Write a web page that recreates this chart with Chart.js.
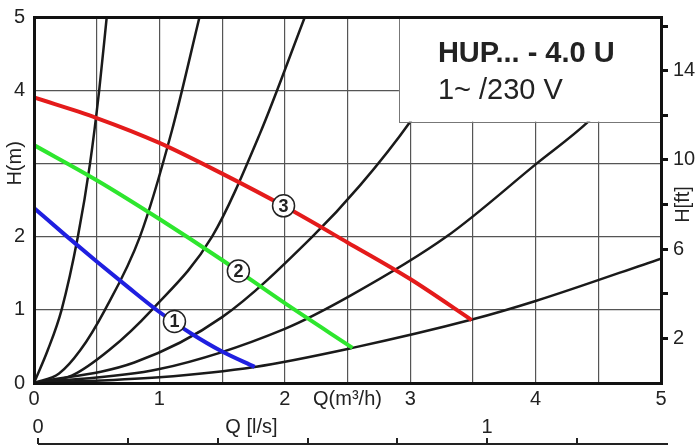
<!DOCTYPE html>
<html>
<head>
<meta charset="utf-8">
<script src="https://cdn.jsdelivr.net/npm/chart.js@4.4.1/dist/chart.umd.min.js"></script>
<style>
  html, body { margin: 0; padding: 0; background: #fff; }
</style>
</head>
<body>
<canvas id="chart" width="700" height="448"></canvas>
<script>
// pump curves, Q in m3/h, H in m
const speed1Q = [0, 0.25, 0.5, 0.75, 1.0, 1.25, 1.5, 1.76];
const speed1H = [2.39, 2.02, 1.66, 1.31, 0.97, 0.68, 0.43, 0.22];
const speed2Q = [0, 0.5, 1.0, 1.5, 2.0, 2.54];
const speed2H = [3.25, 2.77, 2.24, 1.68, 1.09, 0.48];
const speed3Q = [0, 0.5, 1.0, 1.5, 2.0, 2.5, 3.0, 3.49];
const speed3H = [3.9, 3.62, 3.28, 2.86, 2.41, 1.92, 1.42, 0.86];

// numbered markers on the pump curves
const markerQ = [1.12, 1.63, 1.99];
const markerH = [0.84, 1.53, 2.42];
const markerLabels = ['1', '2', '3'];

// system curves (black)
const sysAQ = [0, 0.11, 0.22, 0.35, 0.447, 0.52, 0.58];
const sysAH = [0, 0.45, 1, 2, 3, 4, 5];
const sysBQ = [0, 0.2, 0.37, 0.566, 0.845, 1.1, 1.32];
const sysBH = [0, 0.13, 0.45, 1, 2, 3.45, 5];
const sysCQ = [0, 0.3, 0.6, 0.94, 1.42, 1.8, 2.16];
const sysCH = [0, 0.1, 0.45, 1, 2, 3.4, 5];
const sysDQ = [0, 0.8, 1.5, 2.22, 2.6, 3.0, 3.54];
const sysDH = [0, 0.28, 0.9, 2, 2.7, 3.57, 5];
const sysEQ = [0, 1, 2, 2.52, 3.29, 4.01, 4.42, 5];
const sysEH = [0, 0.19, 0.74, 1.19, 2, 3, 3.57, 4.62];
const sysFQ = [0, 1, 1.76, 2.54, 3.5, 4.0, 5];
const sysFH = [0, 0.08, 0.22, 0.48, 0.87, 1.12, 1.7];

// axes
const hTicks = [0, 1, 2, 3, 4, 5];
const hLabels = ['0', '1', '2', '', '4', '5'];   // "3" is where H(m) sits
const ftPerM = 3.2808;
const ftTicks = [2, 4, 6, 8, 10, 12, 14, 16];
const ftLabels = ['2', '', '6', '', '10', '', '14', ''];
const lsLabelAt = [0, 0.475, 1];
const lsLabels = ['0', 'Q [l/s]', '1'];
const lsMarks = [0, 0.2, 0.4, 0.6, 0.8, 1.0, 1.2];
const lsMin = -0.009, lsMax = 1.387;

const titleText = 'HUP... - 4.0 U';
const subText = '1~ /230 V';
const boxQ = 2.91, boxH = 3.57;   // lower-left corner of the label box

const FONT = '"Liberation Sans", Arial, sans-serif';
const INK = '#222';

function curve(qs, hs, color, width, order) {
  return {
    type: 'line',
    data: qs.map((q, i) => ({ x: q, y: hs[i] })),
    borderColor: color,
    borderWidth: width,
    pointRadius: 0,
    cubicInterpolationMode: 'monotone',
    fill: false,
    order: order
  };
}

const decor = {
  id: 'decor',
  afterDatasetsDraw(chart) {
    const { ctx, chartArea: a, scales } = chart;
    const bx = scales.x.getPixelForValue(boxQ);
    const by = scales.y.getPixelForValue(boxH);
    ctx.save();
    ctx.fillStyle = '#fff';
    ctx.fillRect(bx, a.top, a.right - bx, by - a.top);
    ctx.strokeStyle = '#777';
    ctx.lineWidth = 1;
    ctx.strokeRect(Math.round(bx) + 0.5, a.top, a.right - bx, Math.round(by - a.top) + 0.5);
    ctx.fillStyle = INK;
    ctx.textBaseline = 'alphabetic';
    ctx.font = 'bold 29px ' + FONT;
    ctx.fillText(titleText, bx + 39, a.top + 45);
    ctx.font = '29px ' + FONT;
    ctx.fillText(subText, bx + 39, a.top + 82);

    // numbers in the circles
    const meta = chart.getDatasetMeta(0);
    ctx.font = 'bold 18px ' + FONT;
    ctx.textAlign = 'center';
    ctx.textBaseline = 'middle';
    meta.data.forEach((pt, i) => ctx.fillText(markerLabels[i], pt.x, pt.y + 1));
    ctx.restore();
  },
  afterDraw(chart) {
    const { ctx, chartArea: a, scales } = chart;
    ctx.save();
    ctx.fillStyle = INK;
    ctx.font = '20px ' + FONT;
    ctx.textAlign = 'center';
    ctx.textBaseline = 'middle';
    // rotated axis names
    ctx.save();
    ctx.translate(15, scales.y.getPixelForValue(3));
    ctx.rotate(-Math.PI / 2);
    ctx.fillText('H(m)', 0, 0);
    ctx.restore();
    ctx.save();
    ctx.translate(a.right + 22, scales.yft.getPixelForValue(8));
    ctx.rotate(-Math.PI / 2);
    ctx.fillText('H[ft]', 0, 0);
    ctx.restore();

    // l/s scale: base line with small upward ticks
    const ls = scales.xls;
    const lineY = ls.bottom - 4;
    ctx.strokeStyle = INK;
    ctx.lineWidth = 2;
    ctx.beginPath();
    ctx.moveTo(ls.getPixelForValue(0), lineY);
    ctx.lineTo(a.right + 7, lineY);
    lsMarks.forEach(v => {
      const px = Math.round(ls.getPixelForValue(v));
      ctx.moveTo(px, lineY);
      ctx.lineTo(px, lineY - 6);
    });
    ctx.stroke();
    ctx.restore();
  }
};

const tickFont = { family: FONT, size: 20 };

new Chart(document.getElementById('chart'), {
  type: 'line',
  data: {
    datasets: [
      {
        type: 'scatter',
        data: markerQ.map((q, i) => ({ x: q, y: markerH[i] })),
        pointRadius: 11,
        pointBackgroundColor: '#fff',
        pointBorderColor: INK,
        pointBorderWidth: 1.5,
        showLine: false,
        order: 0
      },
      curve(speed1Q, speed1H, '#1f1fe0', 4, 1),
      curve(speed2Q, speed2H, '#2ee62e', 4, 1),
      curve(speed3Q, speed3H, '#e41b1b', 4, 1),
      curve(sysAQ, sysAH, '#1a1a1a', 2.5, 2),
      curve(sysBQ, sysBH, '#1a1a1a', 2.5, 2),
      curve(sysCQ, sysCH, '#1a1a1a', 2.5, 2),
      curve(sysDQ, sysDH, '#1a1a1a', 2.5, 2),
      curve(sysEQ, sysEH, '#1a1a1a', 2.5, 2),
      curve(sysFQ, sysFH, '#1a1a1a', 2.5, 2)
    ]
  },
  options: {
    responsive: false,
    animation: false,
    layout: { padding: { top: 17, left: 0, right: 0, bottom: 0 } },
    plugins: { legend: { display: false }, tooltip: { enabled: false } },
    scales: {
      x: {
        type: 'linear', position: 'bottom', weight: 1, min: 0, max: 5,
        ticks: {
          stepSize: 0.5, padding: 4, font: tickFont, color: INK, autoSkip: false, maxRotation: 0,
          callback: v => Number.isInteger(v) ? String(v) : (v === 2.5 ? 'Q(m³/h)' : '')
        },
        grid: { color: '#555', lineWidth: 1.2, drawTicks: false },
        border: { color: '#111', width: 3, z: 1 },
        afterFit(s) { s.height = 29; }
      },
      xls: {
        type: 'linear', position: 'bottom', weight: 2, min: lsMin, max: lsMax,
        afterBuildTicks(s) { s.ticks = lsLabelAt.map(v => ({ value: v })); },
        ticks: { padding: 3, font: tickFont, color: INK, autoSkip: false, maxRotation: 0,
          callback: (v, i) => lsLabels[i] },
        grid: { display: false, drawTicks: false },
        border: { display: false },
        afterFit(s) { s.height = 36; }
      },
      xtop: {
        type: 'linear', position: 'top', min: 0, max: 5,
        ticks: { display: false },
        grid: { display: false, drawTicks: false },
        border: { color: '#111', width: 3, z: 1 },
        afterFit(s) { s.height = 0; }
      },
      y: {
        type: 'linear', position: 'left', min: 0, max: 5,
        afterBuildTicks(s) { s.ticks = hTicks.map(v => ({ value: v })); },
        ticks: { padding: 0, font: tickFont, color: INK, callback: (v, i) => hLabels[i] },
        // invisible tick marks keep the labels off the frame without padding the top
        grid: { color: '#555', lineWidth: 1.2, drawTicks: true, tickLength: 9, tickColor: 'rgba(0,0,0,0)' },
        border: { color: '#111', width: 3, z: 1 },
        afterFit(s) { s.width = 34; }
      },
      yft: {
        type: 'linear', position: 'right', min: 0, max: 5 * ftPerM,
        afterBuildTicks(s) { s.ticks = ftTicks.map(v => ({ value: v })); },
        ticks: { padding: 5, font: tickFont, color: INK, callback: (v, i) => ftLabels[i] },
        grid: { drawOnChartArea: false, drawTicks: true, tickLength: 7, lineWidth: 3, color: '#111' },
        border: { color: '#111', width: 3, z: 1 },
        afterFit(s) { s.width = 39; }
      }
    }
  },
  plugins: [decor]
});
</script>
</body>
</html>
